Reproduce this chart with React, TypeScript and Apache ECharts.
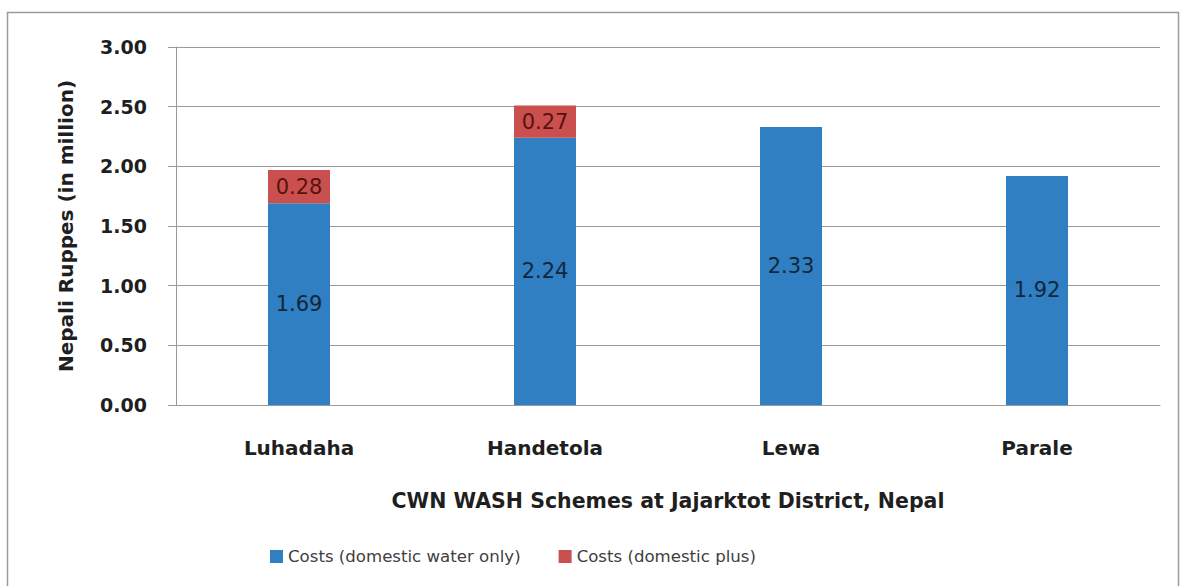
import React, { useEffect, useRef } from "react";
import * as echarts from "echarts";

const categories = ["Luhadaha", "Handetola", "Lewa", "Parale"];
const waterOnly = [1.69, 2.24, 2.33, 1.92];
const domesticPlus: (number | null)[] = [0.28, 0.27, null, null];
const seriesNames = ["Costs (domestic water only)", "Costs (domestic plus)"];

const FONT = "DejaVu Sans";

export default function App() {
  const ref = useRef<HTMLDivElement>(null);

  useEffect(() => {
    if (!ref.current) return;
    const chart = echarts.init(ref.current, null, { renderer: "svg" });
    chart.setOption({
      animation: false,
      backgroundColor: "#ffffff",
      textStyle: { fontFamily: FONT },
      graphic: [
        {
          type: "rect",
          shape: { x: 7.5, y: 12.5, width: 1171, height: 580 },
          style: { fill: "none", stroke: "#9a9a9a", lineWidth: 1.5 },
          silent: true,
        },
      ],
      grid: { left: 176, right: 21, top: 47, bottom: 181 },
      legend: {
        left: 265,
        top: 543,
        itemWidth: 13,
        itemHeight: 13,
        itemGap: 38,
        icon: "rect",
        textStyle: { fontFamily: FONT, fontSize: 16.6, color: "#404040" },
        data: seriesNames,
      },
      xAxis: {
        type: "category",
        data: categories,
        name: "CWN WASH Schemes at Jajarktot District, Nepal",
        nameLocation: "middle",
        nameGap: 85,
        nameTextStyle: { fontFamily: FONT, fontSize: 20.5, fontWeight: "bold", color: "#1f1f1f" },
        axisLine: { lineStyle: { color: "#9a9a9a", width: 1 } },
        axisTick: { show: false },
        axisLabel: { margin: 33, fontFamily: FONT, fontSize: 20, fontWeight: "bold", color: "#1f1f1f" },
      },
      yAxis: {
        type: "value",
        min: 0,
        max: 3,
        interval: 0.5,
        name: "Nepali Ruppes (in million)",
        nameLocation: "middle",
        nameGap: 100,
        nameRotate: 90,
        nameTextStyle: { fontFamily: FONT, fontSize: 20, fontWeight: "bold", color: "#1f1f1f" },
        axisLine: { show: true, lineStyle: { color: "#9a9a9a", width: 1 } },
        axisTick: { show: true, length: 8, lineStyle: { color: "#9a9a9a" } },
        splitLine: { lineStyle: { color: "#9a9a9a", width: 1 } },
        axisLabel: {
          margin: 29,
          fontFamily: FONT,
          fontSize: 19,
          fontWeight: "bold",
          color: "#1f1f1f",
          formatter: (v: number) => v.toFixed(2),
        },
      },
      series: [
        {
          name: seriesNames[0],
          type: "bar",
          stack: "cost",
          barWidth: 62,
          data: waterOnly,
          itemStyle: { color: "#2f7fc2" },
          label: {
            show: true,
            position: "inside",
            fontFamily: FONT,
            fontSize: 21,
            color: "#13263a",
            formatter: (p: any) => Number(p.value).toFixed(2),
          },
        },
        {
          name: seriesNames[1],
          type: "bar",
          stack: "cost",
          barWidth: 62,
          data: domesticPlus,
          itemStyle: { color: "#c9504e" },
          label: {
            show: true,
            position: "inside",
            fontFamily: FONT,
            fontSize: 21,
            color: "#5a1210",
            formatter: (p: any) => (p.value == null ? "" : Number(p.value).toFixed(2)),
          },
        },
      ],
    });
    return () => chart.dispose();
  }, []);

  return (
    <div
      ref={ref}
      style={{ position: "absolute", left: 0, top: 0, width: 1181, height: 586, background: "#fff" }}
    />
  );
}
